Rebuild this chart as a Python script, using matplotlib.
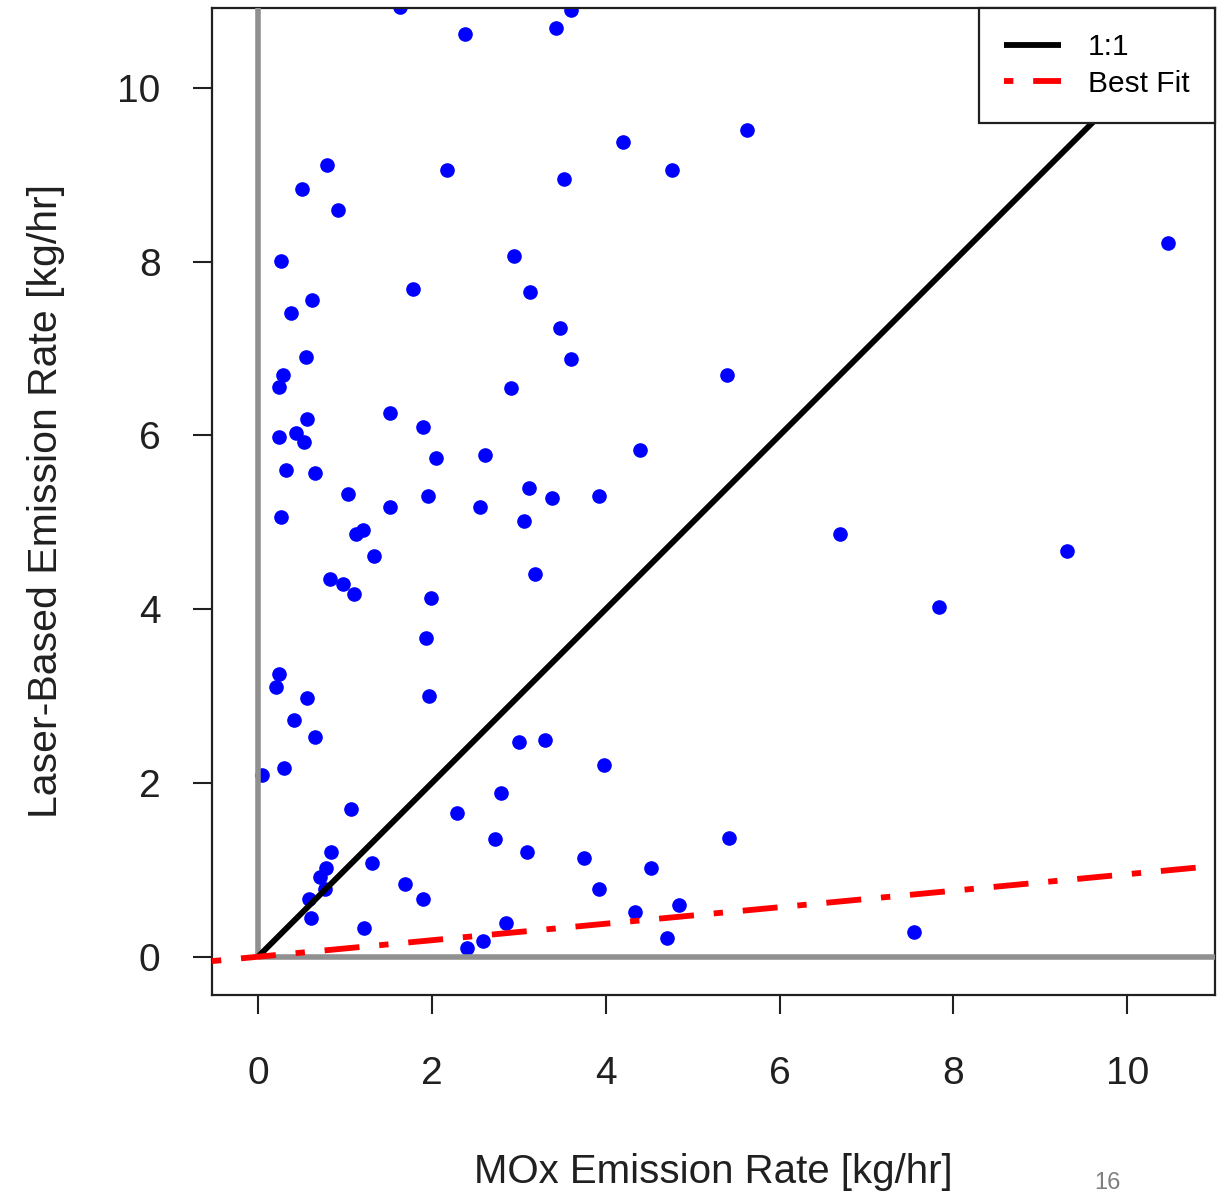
import matplotlib
matplotlib.use("Agg")
import matplotlib.pyplot as plt
import numpy as np

plt.rcParams['font.family'] = ['Liberation Sans', 'DejaVu Sans']

mox = [0.05, 1.63, 2.38, 3.43, 3.60, 4.20, 5.63, 4.76, 3.52, 2.17, 0.79, 0.51, 0.92,
       10.47, 2.95, 0.26, 3.13, 1.78, 0.62, 0.38, 3.48, 0.55, 3.60, 0.29, 0.24, 2.91,
       5.39, 1.52, 0.56, 1.90, 0.24, 0.44, 0.53, 4.40, 2.05, 2.61, 0.32, 0.66, 3.12,
       1.04, 1.96, 3.92, 3.38, 1.52, 2.55, 0.26, 3.06, 1.21, 1.13, 6.70, 1.33, 9.31,
       3.19, 0.83, 0.98, 1.10, 1.99, 7.83, 1.93, 1.97, 0.24, 0.21, 0.56, 0.41, 0.66,
       3.00, 3.30, 0.30, 3.98, 1.07, 2.80, 2.29, 5.42, 2.73, 0.84, 3.10, 3.75, 1.31,
       4.52, 0.78, 0.71, 0.77, 3.92, 1.69, 1.90, 0.59, 0.61, 4.84, 4.34, 2.85, 1.22,
       2.59, 4.71, 2.40, 7.55]
laser = [2.09, 10.93, 10.62, 10.69, 10.90, 9.38, 9.51, 9.05, 8.95, 9.05, 9.11, 8.84, 8.60,
         8.22, 8.07, 8.01, 7.65, 7.69, 7.56, 7.41, 7.24, 6.90, 6.88, 6.70, 6.56, 6.55,
         6.70, 6.26, 6.19, 6.10, 5.98, 6.03, 5.93, 5.83, 5.74, 5.78, 5.60, 5.57, 5.39,
         5.33, 5.30, 5.30, 5.28, 5.18, 5.18, 5.06, 5.01, 4.91, 4.86, 4.86, 4.61, 4.67,
         4.41, 4.35, 4.29, 4.17, 4.13, 4.03, 3.67, 3.00, 3.25, 3.10, 2.98, 2.72, 2.53,
         2.47, 2.50, 2.17, 2.21, 1.70, 1.88, 1.65, 1.37, 1.35, 1.20, 1.20, 1.14, 1.08,
         1.02, 1.02, 0.92, 0.78, 0.78, 0.84, 0.66, 0.66, 0.45, 0.60, 0.52, 0.39, 0.33,
         0.18, 0.22, 0.10, 0.28]

one_to_one = [0, 20]
zero_axis = [0, 20]
fit_slope = 0.095
fit_intercept = 0.0
ticks = [0, 2, 4, 6, 8, 10]

fig = plt.figure(figsize=(12.28, 11.93), dpi=100)
ax = fig.add_axes([0.1726, 0.1660, 0.9894 - 0.1726, 0.9933 - 0.1660])
ax.set_xlim(-0.53, 11.01)
ax.set_ylim(-0.44, 10.92)

ax.plot(mox, laser, 'o', color='#0000ff', ms=9.5, mec='#0000ff', zorder=2)

ax.plot(zero_axis, [0, 0], color='#909090', lw=4.0, solid_capstyle='butt', zorder=3)
ax.plot([0, 0], zero_axis, color='#909090', lw=4.0, solid_capstyle='butt', zorder=3)

ax.plot(one_to_one, one_to_one, color='black', lw=4.2, label='1:1',
        solid_capstyle='butt', zorder=4)
ax.axline((0, fit_intercept), slope=fit_slope, color='#ff0000', lw=4.2,
          dashes=(1.6, 3.4, 6.0, 3.4), label='Best Fit', zorder=4)

for s in ax.spines.values():
    s.set_linewidth(1.6)
    s.set_color('#202020')

ax.set_xticks(ticks)
ax.set_yticks(ticks)
ax.tick_params(axis='both', direction='out', length=14, width=1.5, labelsize=28,
               color='#202020', labelcolor='#202020')
ax.tick_params(axis='x', pad=30)
ax.tick_params(axis='y', pad=23)

ax.set_xlabel('MOx Emission Rate [kg/hr]', fontsize=29, color='#202020', labelpad=44)
ax.set_ylabel('Laser-Based Emission Rate [kg/hr]', fontsize=29.5, color='#202020', labelpad=38)

leg = ax.legend(loc='upper right', fontsize=21.5, frameon=True, fancybox=False,
                edgecolor='#202020', framealpha=1, borderaxespad=0, handlelength=1.9,
                borderpad=0.85, labelspacing=0.28, handletextpad=0.9)
leg.get_frame().set_linewidth(1.6)

fig.text(1107 / 1228, 1 - 1183 / 1193, '16', fontsize=17, color='#7f7f7f',
         ha='center', va='center')

fig.savefig('out.png', dpi=100)
